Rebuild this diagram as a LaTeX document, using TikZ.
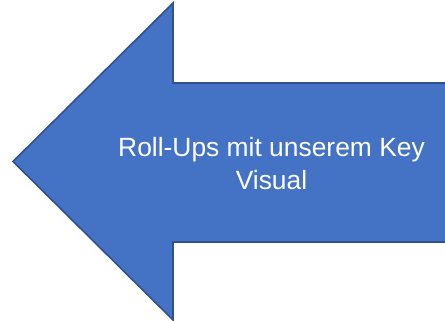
\documentclass[tikz,border=0pt]{standalone}
\usepackage{fontspec}
\setmainfont{Liberation Sans}
\definecolor{arrowfill}{HTML}{4472C4}
\definecolor{arrowline}{HTML}{2F528F}
\begin{document}
\begin{tikzpicture}[x=1pt,y=-1pt,
  arrowshape/.style={fill=arrowfill,draw=arrowline,line width=1.6pt,line join=miter},
  label/.style={text=white,font=\fontsize{26.4}{32.6}\selectfont,align=center,inner sep=0pt}]
\useasboundingbox (0,0) rectangle (445,321);
\clip (0,0) rectangle (445,321);
\coordinate (tip) at (13,161.5);
\coordinate (ht) at (173,3);
\coordinate (st) at (173,83);
\coordinate (rt) at (450,83);
\coordinate (rb) at (450,242);
\coordinate (sb) at (173,242);
\coordinate (hb) at (173,320);
\draw[arrowshape] (tip) -- (ht) -- (st) -- (rt) -- (rb) -- (sb) -- (hb) -- cycle;
\node[label,anchor=base] (txt) at (271.5,189.3) {Roll-Ups mit unserem Key\\Visual};
\end{tikzpicture}
\end{document}
